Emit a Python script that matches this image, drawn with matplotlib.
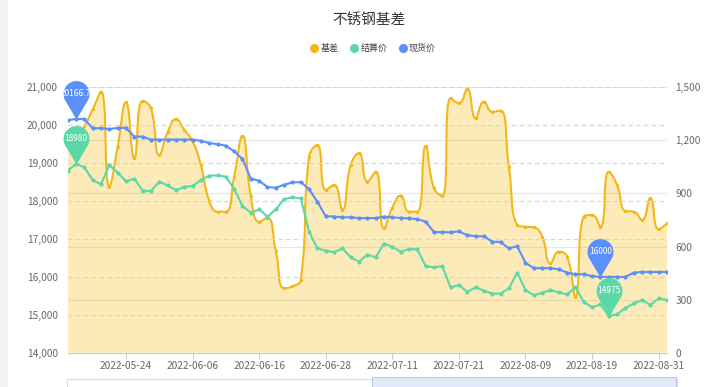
import numpy as np
import matplotlib
matplotlib.use('Agg')
import matplotlib.pyplot as plt
from matplotlib.path import Path
from matplotlib.patches import PathPatch, Rectangle
from matplotlib.lines import Line2D
from matplotlib.ticker import FuncFormatter

plt.rcParams['font.family'] = ['Noto Sans CJK SC', 'DejaVu Sans']

# trading days shown on the category axis
dates = ['2022-05-13', '2022-05-16', '2022-05-17', '2022-05-18', '2022-05-19', '2022-05-20', '2022-05-23', '2022-05-24',
         '2022-05-25', '2022-05-26', '2022-05-27', '2022-05-30', '2022-05-31', '2022-06-01', '2022-06-02', '2022-06-06',
         '2022-06-07', '2022-06-08', '2022-06-09', '2022-06-10', '2022-06-13', '2022-06-14', '2022-06-15', '2022-06-16',
         '2022-06-17', '2022-06-20', '2022-06-21', '2022-06-22', '2022-06-23', '2022-06-24', '2022-06-27', '2022-06-28',
         '2022-06-29', '2022-06-30', '2022-07-01', '2022-07-04', '2022-07-05', '2022-07-06', '2022-07-07', '2022-07-11',
         '2022-07-12', '2022-07-13', '2022-07-14', '2022-07-15', '2022-07-18', '2022-07-19', '2022-07-20', '2022-07-21',
         '2022-07-22', '2022-07-25', '2022-07-26', '2022-07-28', '2022-08-01', '2022-08-03', '2022-08-05', '2022-08-09',
         '2022-08-10', '2022-08-11', '2022-08-12', '2022-08-15', '2022-08-16', '2022-08-17', '2022-08-18', '2022-08-19',
         '2022-08-22', '2022-08-23', '2022-08-24', '2022-08-25', '2022-08-26', '2022-08-29', '2022-08-30', '2022-08-31',
         '2022-09-01']

# 基差 (right axis)
basis = [1150, 1200, 1280, 1375, 1475, 938, 1164, 1415, 1099, 1423,
         1381, 1117, 1245, 1320, 1260, 1195, 1060, 860, 797, 797,
         995, 1225, 885, 740, 762, 575, 364, 375, 411, 1108,
         1174, 920, 948, 807, 1061, 1127, 967, 1023, 703, 820,
         888, 797, 797, 1168, 929, 886, 1438, 1410, 1489, 1325,
         1419, 1362, 1368, 1051, 722, 712, 709, 656, 505, 571,
         543, 317, 769, 778, 712, 1023, 948, 801, 797, 750,
         873, 697, 731]

# 结算价 (left axis)
settle = [18800, 18980, 18890, 18554, 18440, 18950, 18750, 18520, 18590, 18272,
          18264, 18510, 18410, 18290, 18370, 18400, 18554, 18668, 18678, 18641,
          18320, 17868, 17692, 17780, 17590, 17780, 18050, 18100, 18070, 17190,
          16750, 16690, 16650, 16750, 16515, 16400, 16590, 16515, 16880, 16795,
          16660, 16733, 16725, 16285, 16250, 16285, 15723, 15784, 15607, 15723,
          15633, 15560, 15560, 15697, 16108, 15652, 15512, 15582, 15652, 15590,
          15538, 15723, 15343, 15195, 15274, 14975, 15010, 15177, 15300, 15388,
          15256, 15433, 15388]

# 现货价 (left axis)
spot = [20130, 20166.7, 20160, 19920, 19920, 19900, 19930, 19930, 19700, 19700,
        19620, 19620, 19620, 19620, 19620, 19620, 19590, 19530, 19500, 19460,
        19310, 19110, 18590, 18536, 18370, 18350, 18430, 18490, 18500, 18310,
        17980, 17600, 17590, 17570, 17570, 17550, 17550, 17550, 17590, 17570,
        17555, 17540, 17525, 17455, 17180, 17180, 17175, 17200, 17100, 17070,
        17070, 16930, 16920, 16750, 16810, 16370, 16230, 16230, 16230, 16200,
        16110, 16070, 16070, 16020, 16000, 16000, 16000, 16000, 16110, 16130,
        16130, 16130, 16130]

series_names = ['基差', '结算价', '现货价']
colors = ['#F2B719', '#5AD8A6', '#5B8FF9']

W, H, DPI = 720, 387, 100
fig = plt.figure(figsize=(W / DPI, H / DPI), dpi=DPI)

# plot area in pixels
x0, x1, ytop, ybot = 67.7, 667.0, 87.3, 352.7
ax = fig.add_axes([x0 / W, 1 - ybot / H, (x1 - x0) / W, (ybot - ytop) / H])
ax2 = ax.twinx()

n = len(dates)
xs = np.arange(n)
ax.set_xlim(0, n - 1)
ax.set_ylim(0, 1500)
ax2.set_ylim(14000, 21000)

# echarts-like smooth curve (clamped bezier), computed in pixel units
sx = (x1 - x0) / (n - 1)
sy = (ybot - ytop) / 1500


def smooth_verts(xv, yv, smooth=0.5):
    px = [a * sx for a in xv]
    py = [b * sy for b in yv]
    verts = [(px[0], py[0])]
    codes = [Path.MOVETO]
    cp0 = (px[0], py[0])
    for k in range(1, len(px)):
        x, y = px[k], py[k]
        prx, pry = px[k - 1], py[k - 1]
        if k == len(px) - 1:
            cp1 = (x, y)
            nxt = None
        else:
            nx, ny = px[k + 1], py[k + 1]
            vx, vy = nx - prx, ny - pry
            lp = np.hypot(x - prx, y - pry)
            ln = np.hypot(nx - x, ny - y)
            r = ln / (ln + lp)
            ncx = x + vx * smooth * r
            ncy = y + vy * smooth * r
            ncx = max(min(ncx, max(nx, x)), min(nx, x))
            ncy = max(min(ncy, max(ny, y)), min(ny, y))
            vx, vy = ncx - x, ncy - y
            c1x = x - vx * lp / ln
            c1y = y - vy * lp / ln
            c1x = max(min(c1x, max(prx, x)), min(prx, x))
            c1y = max(min(c1y, max(pry, y)), min(pry, y))
            vx, vy = x - c1x, y - c1y
            cp1 = (c1x, c1y)
            nxt = (x + vx * ln / lp, y + vy * ln / lp)
        verts += [cp0, cp1, (x, y)]
        codes += [Path.CURVE4] * 3
        cp0 = nxt
    verts = [(a / sx, b / sy) for a, b in verts]
    return verts, codes


bv, bc = smooth_verts(xs, basis)
fill_path = Path(bv + [(n - 1, 0), (0, 0), (0, 0)],
                 bc + [Path.LINETO, Path.LINETO, Path.CLOSEPOLY])
ax.add_patch(PathPatch(fill_path, facecolor='#F6BD16', alpha=0.3, edgecolor='none', zorder=2))
ax.add_patch(PathPatch(Path(bv, bc), facecolor='none', edgecolor=colors[0], lw=1.5, zorder=3))
ax.plot(xs, basis, 'o', ms=1.4, color=colors[0], zorder=4)

ax2.plot(xs, settle, '-o', color=colors[1], lw=1.5, ms=2.0, zorder=3)
ax2.plot(xs, spot, '-o', color=colors[2], lw=1.5, ms=2.0, zorder=3)

# grid lines
ax.set_yticks([0, 300, 600, 900, 1200, 1500])
ax.yaxis.grid(True, color='#e6e6e6', lw=0.8)
ax.set_axisbelow(True)
ax2.set_yticks(range(14000, 21001, 1000))
ax2.yaxis.grid(True, color='#d4d4d4', lw=0.8, ls=(0, (4, 3)))

ax.yaxis.tick_right()
ax2.yaxis.tick_left()
fmt = FuncFormatter(lambda v, p: '{:,.0f}'.format(v))
ax.yaxis.set_major_formatter(fmt)
ax2.yaxis.set_major_formatter(fmt)
ax.tick_params(axis='y', length=0, labelsize=7.3, labelcolor='#666666', pad=6)
ax2.tick_params(axis='y', length=0, labelsize=7.3, labelcolor='#666666', pad=7)

tick_idx = list(range(7, n, 8))
ax.set_xticks(tick_idx)
ax.set_xticklabels([dates[i] for i in tick_idx])
ax.tick_params(axis='x', length=4, color='#cccccc', labelsize=7.3, labelcolor='#666666', pad=2)

for a in (ax, ax2):
    for s in a.spines.values():
        s.set_visible(False)
ax.spines['bottom'].set_visible(True)
ax.spines['bottom'].set_color('#cccccc')

# pin shaped mark points
r_pin, c_pin = 13.0, 25.4
beta = np.arccos(r_pin / c_pin)
t = np.linspace(-np.pi / 2 + beta, 3 * np.pi / 2 - beta, 40)
pin_verts = [(r_pin * np.cos(a), c_pin + r_pin * np.sin(a)) for a in t] + [(0, 0), (0, 0)]
pin_codes = [Path.MOVETO] + [Path.LINETO] * 40 + [Path.CLOSEPOLY]
pin = Path(pin_verts, pin_codes)
pin_ms = 2 * (c_pin + r_pin) * 72 / DPI


def mark(values, idx, color):
    v = values[idx]
    ax2.plot([idx], [v], marker=pin, ms=pin_ms, color=color, mec='none',
             ls='none', clip_on=False, zorder=10)
    ax2.annotate('{:g}'.format(v), xy=(idx, v), xytext=(0, c_pin), textcoords='offset pixels',
                 ha='center', va='center', color='white', fontsize=6, zorder=11,
                 annotation_clip=False)


mark(settle, int(np.argmax(settle)), colors[1])
mark(spot, int(np.argmax(spot)), colors[2])
mark(spot, int(np.argmin(spot)), colors[2])
mark(settle, int(np.argmin(settle)), colors[1])

# title and legend
fig.text(0.5125, 1 - 20 / H, '不锈钢基差', ha='center', va='center', fontsize=10.5, color='#333333')
handles = [Line2D([], [], marker='o', ls='none', ms=5.5, color=c) for c in colors]
fig.legend(handles, series_names, loc='center', bbox_to_anchor=(0.518, 1 - 48 / H), ncol=3,
           frameon=False, fontsize=6.5, handletextpad=0.2, columnspacing=1.2,
           labelcolor='#444444', handlelength=1.0)

# left page strip and data zoom slider at the bottom
fig.patches.append(Rectangle((0, 0), 7 / W, 1, transform=fig.transFigure, color='#f3f3f3', zorder=0))
fig.patches.append(Rectangle((67 / W, -0.05), 610 / W, 0.05 + (H - 379) / H, transform=fig.transFigure,
                             facecolor='none', edgecolor='#d6dcea', lw=0.8))
fig.patches.append(Rectangle((372 / W, -0.05), 304 / W, 0.05 + (H - 377) / H, transform=fig.transFigure,
                             facecolor='#dfe8fb', edgecolor='#b8c4de', lw=0.8, alpha=0.9))

fig.savefig('out.png', dpi=DPI)
